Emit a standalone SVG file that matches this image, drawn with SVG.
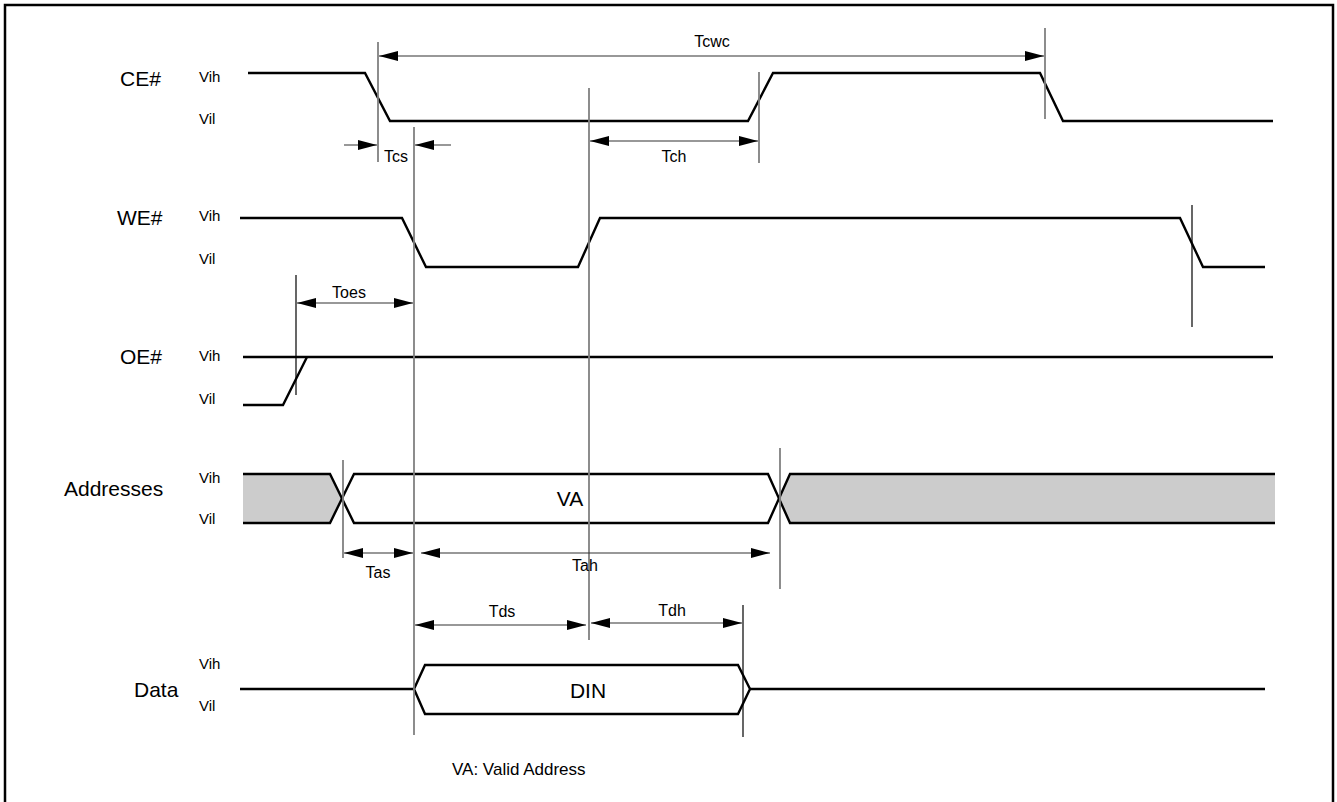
<svg xmlns="http://www.w3.org/2000/svg" width="1337" height="802" viewBox="0 0 1337 802">
<style>
.sig{fill:none;stroke:#000;stroke-width:2.4;stroke-linejoin:miter}
.vg{stroke:#808080;stroke-width:1.8}
.vb{stroke:#000;stroke-width:1.2}
.dim{stroke:#333;stroke-width:1.2;marker-start:url(#ah);marker-end:url(#ah)}
.one{stroke:#333;stroke-width:1.2;marker-end:url(#ah)}
.lbl{font-family:"Liberation Sans",Arial,sans-serif;font-size:21px;fill:#000}
.lv{font-family:"Liberation Sans",Arial,sans-serif;font-size:15px;fill:#000}
.tl{font-family:"Liberation Sans",Arial,sans-serif;font-size:16px;fill:#000;text-anchor:middle}
.big{font-family:"Liberation Sans",Arial,sans-serif;font-size:21px;fill:#000;text-anchor:middle}
</style>
<defs>
<marker id="ah" viewBox="0 0 19 10" refX="19" refY="5" markerWidth="19" markerHeight="10" markerUnits="userSpaceOnUse" orient="auto-start-reverse">
<path d="M0,0 L19,5 L0,10 Z" fill="#000"/>
</marker>
</defs>
<rect x="5" y="5" width="1328" height="802" fill="#fff" stroke="#000" stroke-width="2.5"/>

<g id="CE">
<text class="lbl" x="120" y="86">CE#</text>
<text class="lv" x="199" y="82">Vih</text>
<text class="lv" x="199" y="124">Vil</text>
<path class="sig" d="M248,73 H365 L390,121 H748 L773,73 H1040 L1063,121 H1273"/>
</g>
<g id="WE">
<text class="lbl" x="117" y="225">WE#</text>
<text class="lv" x="199" y="221">Vih</text>
<text class="lv" x="199" y="264">Vil</text>
<path class="sig" d="M240,218 H402 L426,267 H578 L600,218 H1180 L1203,267 H1265"/>
</g>
<g id="OE">
<text class="lbl" x="120" y="364">OE#</text>
<text class="lv" x="199" y="361">Vih</text>
<text class="lv" x="199" y="404">Vil</text>
<path class="sig" d="M243,357 H1273"/>
<path class="sig" d="M243,405 H283 L307,357"/>
</g>
<g id="Addresses">
<text class="lbl" x="64" y="496">Addresses</text>
<text class="lv" x="199" y="483">Vih</text>
<text class="lv" x="199" y="524">Vil</text>
<polygon points="243,474 330,474 342,498.5 330,523 243,523" fill="#cccccc"/>
<path class="sig" d="M243,474 H330 L342,498.5 L330,523 H243"/>
<polygon points="779,498.5 790,474 1275,474 1275,523 790,523" fill="#cccccc"/>
<path class="sig" d="M1275,474 H790 L779,498.5 L790,523 H1275"/>
<path class="sig" d="M342,498.5 L354,474 H768 L779,498.5 L768,523 H354 Z"/>
<text class="big" x="570" y="506">VA</text>
</g>
<g id="Data">
<text class="lbl" x="134" y="697">Data</text>
<text class="lv" x="199" y="669">Vih</text>
<text class="lv" x="199" y="711">Vil</text>
<path class="sig" d="M240,689 H414"/>
<path class="sig" d="M414,689 L425,665 H738 L750,689 L738,714 H425 Z"/>
<path class="sig" d="M750,689 H1265"/>
<text class="big" x="588" y="698">DIN</text>
</g>

<g id="connectors">
<line class="vg" x1="378" y1="42" x2="378" y2="162"/>
<line class="vg" x1="414" y1="127" x2="414" y2="735"/>
<line class="vg" x1="589" y1="88" x2="589" y2="640"/>
<line class="vg" x1="759" y1="72" x2="759" y2="163"/>
<line class="vg" x1="1045" y1="28" x2="1045" y2="119"/>
<line class="vb" x1="296" y1="275" x2="296" y2="395"/>
<line class="vb" x1="1192" y1="205" x2="1192" y2="327"/>
<line class="vg" x1="343" y1="460" x2="343" y2="558"/>
<line class="vg" x1="780" y1="448" x2="780" y2="589"/>
<line class="vb" x1="743" y1="605" x2="743" y2="737"/>

<line class="dim" x1="379" y1="56" x2="1044" y2="56"/>
<line class="one" x1="344" y1="145" x2="377" y2="145"/>
<line class="one" x1="451" y1="145" x2="415" y2="145"/>
<line class="dim" x1="590" y1="141" x2="758" y2="141"/>
<line class="dim" x1="297" y1="303" x2="413" y2="303"/>
<line class="dim" x1="344" y1="553" x2="413" y2="553"/>
<line class="dim" x1="421" y1="553" x2="770" y2="553"/>
<line class="dim" x1="415" y1="625" x2="586" y2="625"/>
<line class="dim" x1="591" y1="623" x2="742" y2="623"/>

<text class="tl" x="712" y="47">Tcwc</text>
<text class="tl" x="396" y="162">Tcs</text>
<text class="tl" x="674" y="162">Tch</text>
<text class="tl" x="349" y="298">Toes</text>
<text class="tl" x="378" y="578">Tas</text>
<text class="tl" x="585" y="571">Tah</text>
<text class="tl" x="502" y="617">Tds</text>
<text class="tl" x="672" y="616">Tdh</text>
</g>
<text x="452" y="775" font-family="'Liberation Sans',Arial,sans-serif" font-size="17px" fill="#000">VA: Valid Address</text>
</svg>
